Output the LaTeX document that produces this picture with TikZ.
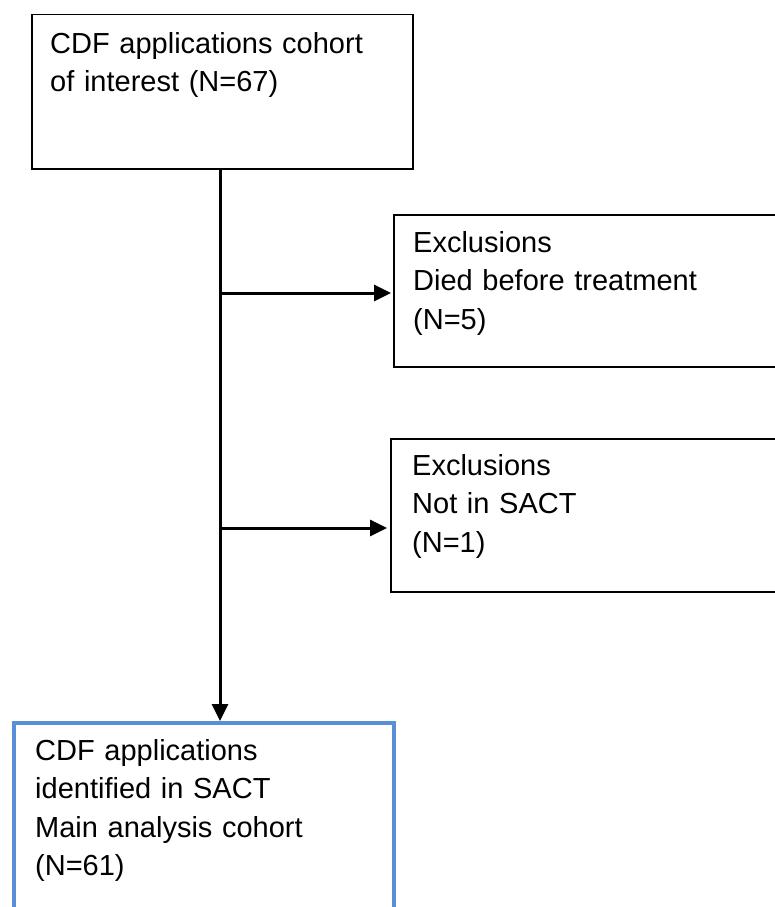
\documentclass[tikz,border=0pt]{standalone}
\usepackage{fontspec}
\setmainfont{Liberation Sans}
\usetikzlibrary{arrows.meta,positioning}
\definecolor{boxblue}{RGB}{88,143,214}
\tikzset{
  box/.style={draw, line width=1.5pt, anchor=north west, inner sep=0pt},
  txt/.style={anchor=base west, inner sep=0pt, align=left, text width=370pt,
    font=\fontsize{29}{38.5}\selectfont},
  flow/.style={line width=3pt, -{Triangle[length=17pt,width=16pt]}}
}
\begin{document}
\begin{tikzpicture}[x=1pt,y=-1pt]
    \useasboundingbox (0,0) rectangle (774,907);
    \node[box, minimum width=381pt, minimum height=154pt] (cohort) at (31,14) {};
    \node[box, minimum width=410pt, minimum height=152pt] (died) at (393,214) {};
    \node[box, minimum width=410pt, minimum height=153pt] (sact) at (390,438) {};
    \node[box, draw=boxblue, line width=3.5pt, minimum width=380pt, minimum height=210pt] (main) at (12,721) {};
    \node[txt] (cohorttxt) at (50,53) {CDF applications cohort\\of interest (N=67)};
    \node[txt] (diedtxt) at (413,252) {Exclusions\\Died before treatment\\(N=5)};
    \node[txt] (sacttxt) at (412,475) {Exclusions\\Not in SACT\\(N=1)};
    \node[txt] (maintxt) at (35,760) {CDF applications\\identified in SACT\\Main analysis cohort\\(N=61)};
    \coordinate (J1) at (220,293); \coordinate (J2) at (220,528);
    \draw[flow] (J1 |- cohort.south) -- (J1 |- main.north);
    \draw[flow] (J1) -- ([xshift=-2pt]died.west |- J1);
    \draw[flow] (J2) -- ([xshift=-3pt]sact.west |- J2);
  \end{tikzpicture}
\end{document}
